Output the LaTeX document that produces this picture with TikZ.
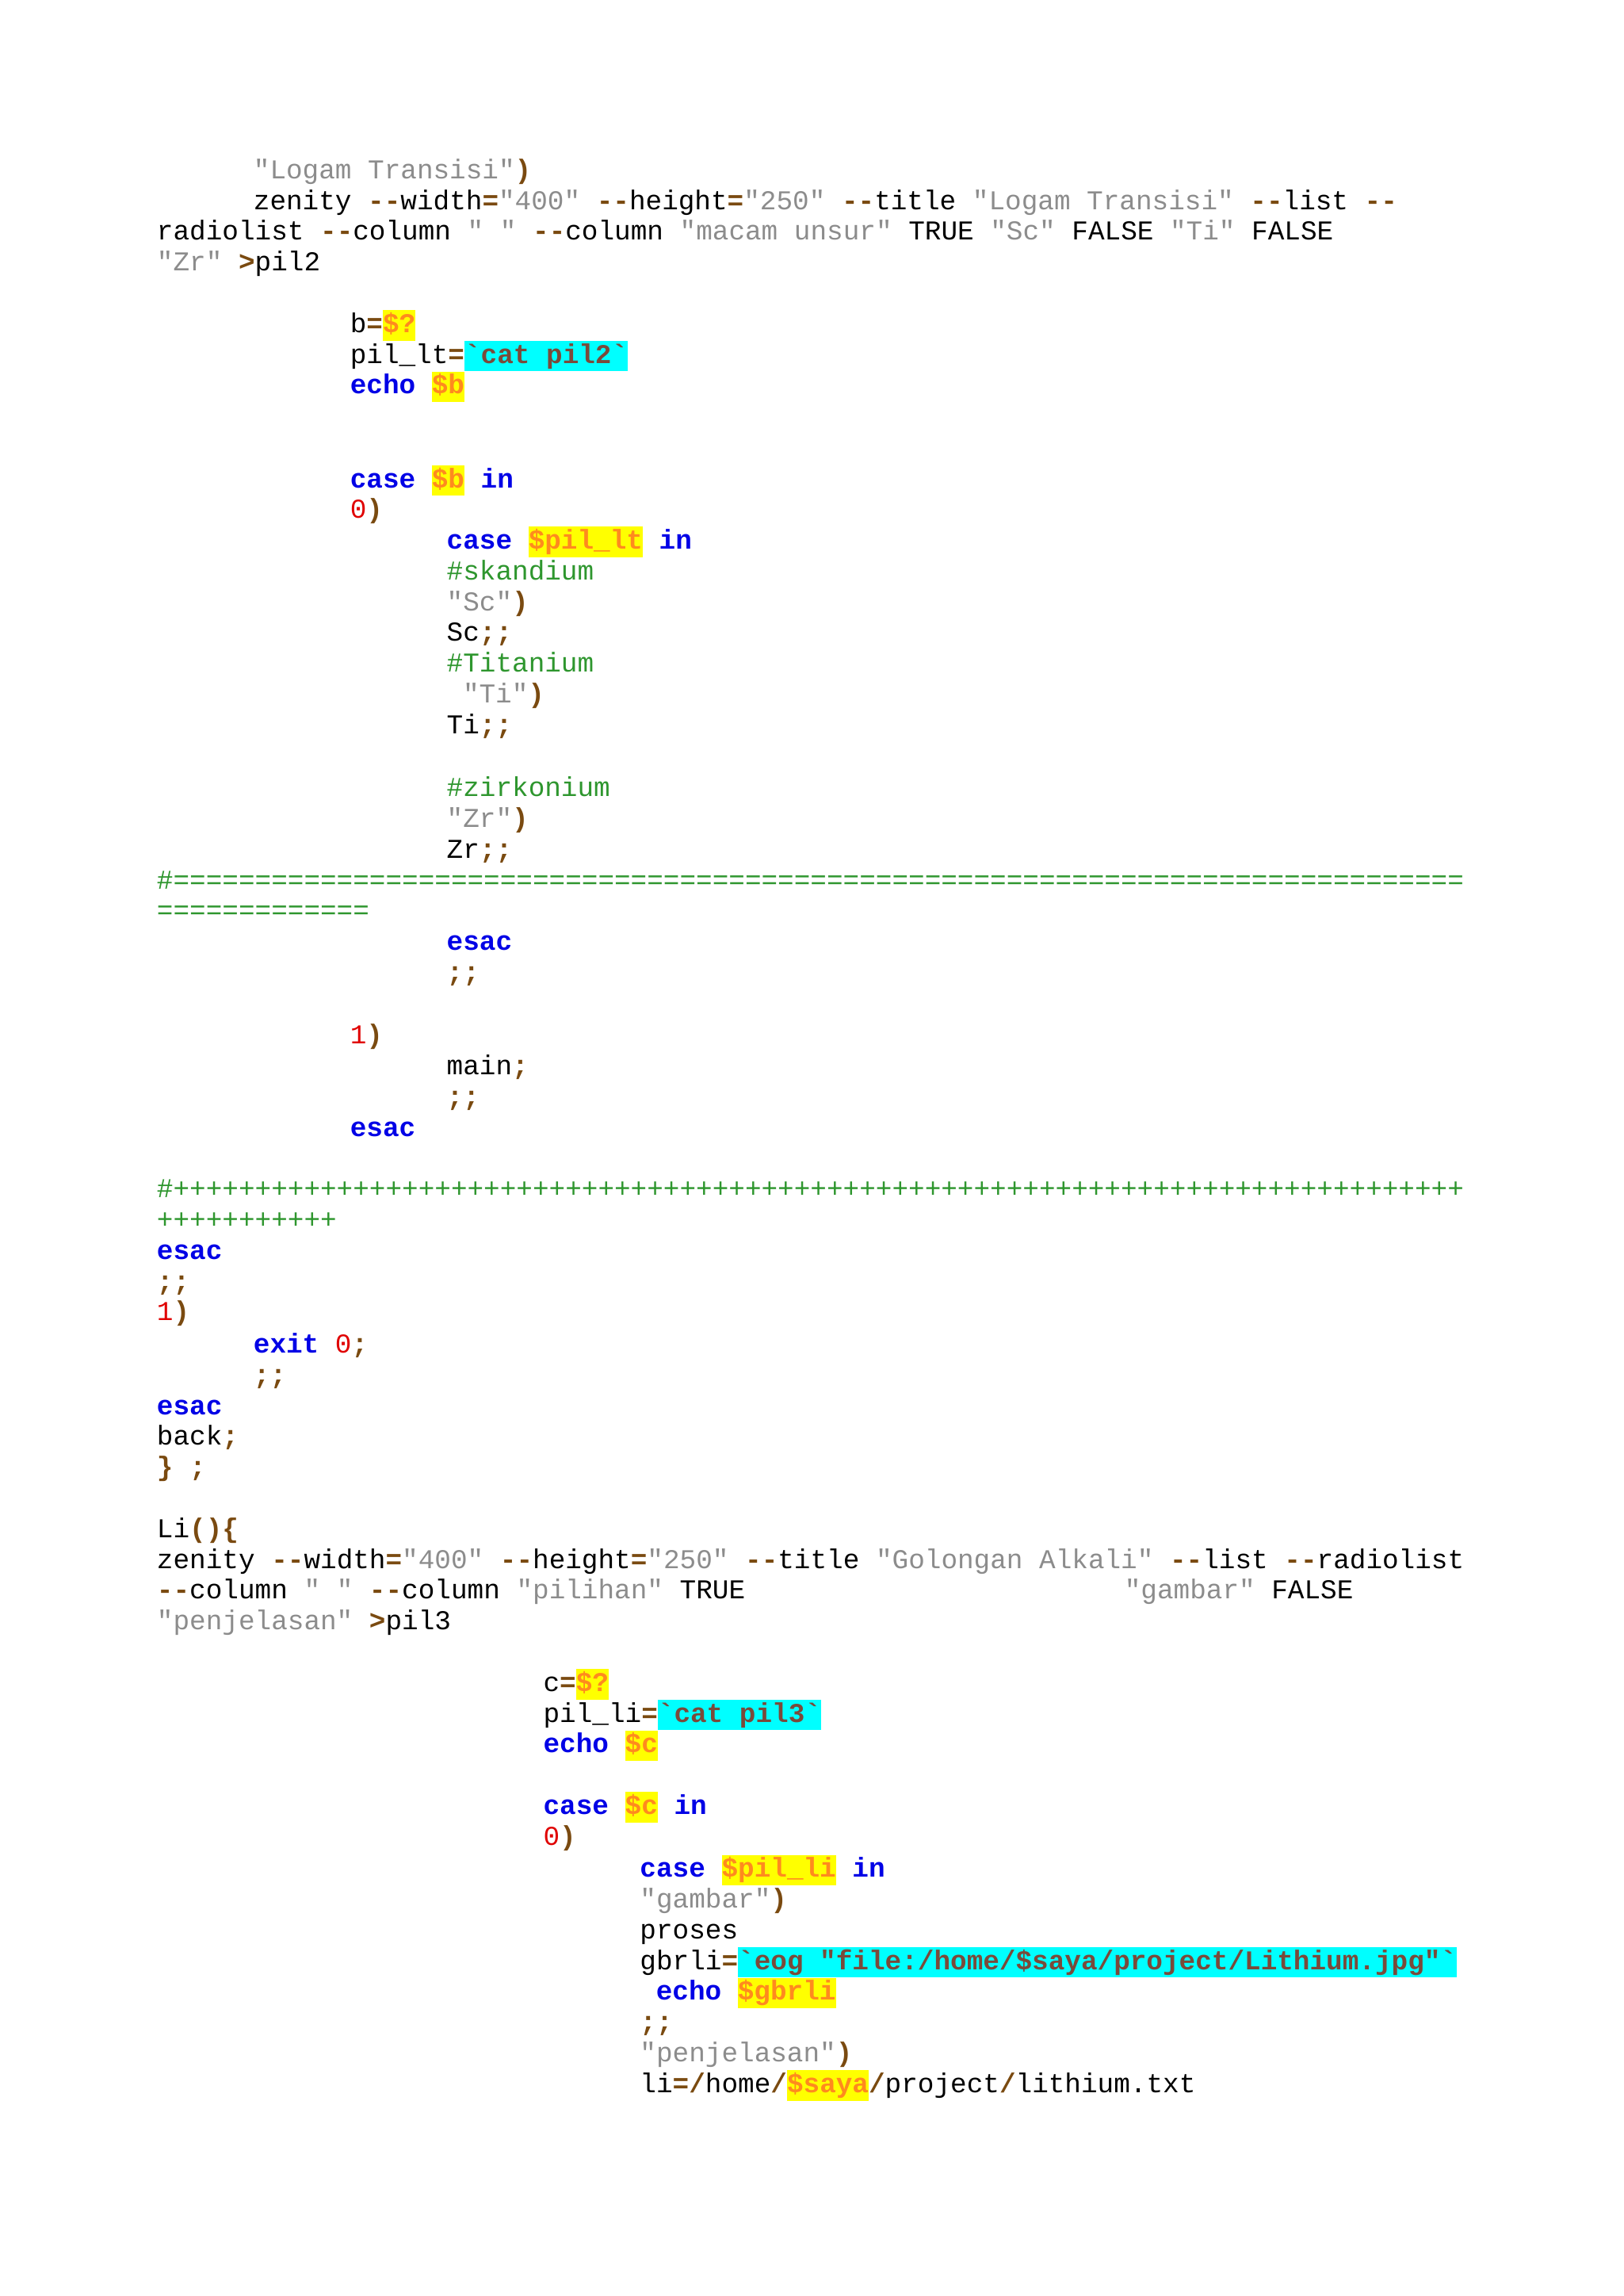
\documentclass[tikz,border=0pt]{standalone}
\usepackage{fontspec}
\usepackage{xcolor}
\newfontfamily\codefont{Liberation Mono}
\definecolor{strc}{HTML}{8C8C8C}
\definecolor{kwc}{HTML}{0000E6}
\definecolor{opc}{HTML}{7A4A10}
\definecolor{cmc}{HTML}{2E962E}
\definecolor{numc}{HTML}{E00000}
\definecolor{varc}{HTML}{FF8A1E}
\definecolor{hlc}{HTML}{7A4A3A}
\definecolor{hly}{HTML}{FFFF00}
\definecolor{hlcy}{HTML}{00FFFF}
\newcommand{\Cs}[1]{\textcolor{strc}{#1}}
\newcommand{\Ck}[1]{\textcolor{kwc}{\bfseries #1}}
\newcommand{\Co}[1]{\textcolor{opc}{\bfseries #1}}
\newcommand{\Cc}[1]{\textcolor{cmc}{#1}}
\newcommand{\Cn}[1]{\textcolor{numc}{#1}}
\newcommand{\Hy}[1]{{\setlength{\fboxsep}{0pt}\colorbox{hly}{\rule[-0.3em]{0pt}{1.12em}\textcolor{varc}{\bfseries #1}}}}
\newcommand{\Hc}[1]{{\setlength{\fboxsep}{0pt}\colorbox{hlcy}{\rule[-0.3em]{0pt}{1.12em}\textcolor{hlc}{\bfseries #1}}}}
\begin{document}
\begin{tikzpicture}[x=1pt,y=-1pt,
  ln/.style={anchor=base west,inner sep=0pt,font=\codefont\fontsize{18.6}{20}\selectfont}]
\useasboundingbox[fill=white] (0,0) rectangle (1109,1568);
\node[ln] (l1) at (173,122) {\Cs{"Logam Transisi"}\Co{)}};
\node[ln] (l2) at (173,143) {zenity \Co{--}width\Co{=}\Cs{"400"} \Co{--}height\Co{=}\Cs{"250"} \Co{--}title \Cs{"Logam Transisi"} \Co{--}list \Co{--}};
\node[ln] (l3) at (107,164) {radiolist \Co{--}column \Cs{" "} \Co{--}column \Cs{"macam unsur"} TRUE \Cs{"Sc"} FALSE \Cs{"Ti"} FALSE};
\node[ln] (l4) at (107,185) {\Cs{"Zr"} \Co{>}pil2};
\node[ln] (l5) at (239,227) {b\Co{=}\Hy{\$?}};
\node[ln] (l6) at (239,248) {pil\_lt\Co{=}\Hc{`cat pil2`}};
\node[ln] (l7) at (239,269) {\Ck{echo} \Hy{\$b}};
\node[ln] (l8) at (239,333) {\Ck{case} \Hy{\$b} \Ck{in}};
\node[ln] (l9) at (239,354) {\Cn{0}\Co{)}};
\node[ln] (l10) at (305,375) {\Ck{case} \Hy{\$pil\_lt} \Ck{in}};
\node[ln] (l11) at (305,396) {\Cc{\#skandium}};
\node[ln] (l12) at (305,417) {\Cs{"Sc"}\Co{)}};
\node[ln] (l13) at (305,438) {Sc\Co{;;}};
\node[ln] (l14) at (305,459) {\Cc{\#Titanium}};
\node[ln] (l15) at (316,480) {\Cs{"Ti"}\Co{)}};
\node[ln] (l16) at (305,501) {Ti\Co{;;}};
\node[ln] (l17) at (305,544) {\Cc{\#zirkonium}};
\node[ln] (l18) at (305,565) {\Cs{"Zr"}\Co{)}};
\node[ln] (l19) at (305,586) {Zr\Co{;;}};
\node[ln] (l20) at (107,607) {\Cc{\#===============================================================================}};
\node[ln] (l21) at (107,628) {\Cc{=============}};
\node[ln] (l22) at (305,649) {\Ck{esac}};
\node[ln] (l23) at (305,670) {\Co{;;}};
\node[ln] (l24) at (239,713) {\Cn{1}\Co{)}};
\node[ln] (l25) at (305,734) {main\Co{;}};
\node[ln] (l26) at (305,755) {\Co{;;}};
\node[ln] (l27) at (239,776) {\Ck{esac}};
\node[ln] (l28) at (107,818) {\Cc{\#+++++++++++++++++++++++++++++++++++++++++++++++++++++++++++++++++++++++++++++++}};
\node[ln] (l29) at (107,839) {\Cc{+++++++++++}};
\node[ln] (l30) at (107,860) {\Ck{esac}};
\node[ln] (l31) at (107,881) {\Co{;;}};
\node[ln] (l32) at (107,902) {\Cn{1}\Co{)}};
\node[ln] (l33) at (173,924) {\Ck{exit} \Cn{0}\Co{;}};
\node[ln] (l34) at (173,945) {\Co{;;}};
\node[ln] (l35) at (107,966) {\Ck{esac}};
\node[ln] (l36) at (107,987) {back\Co{;}};
\node[ln] (l37) at (107,1008) {\Co{\} ;}};
\node[ln] (l38) at (107,1050) {Li\Co{()\{}};
\node[ln] (l39) at (107,1071) {zenity \Co{--}width\Co{=}\Cs{"400"} \Co{--}height\Co{=}\Cs{"250"} \Co{--}title \Cs{"Golongan Alkali"} \Co{--}list \Co{--}radiolist};
\node[ln] (l40) at (107,1092) {\Co{--}column \Cs{" "} \Co{--}column \Cs{"pilihan"} TRUE};
\node[ln] (l40b) at (768,1092) {\Cs{"gambar"} FALSE};
\node[ln] (l41) at (107,1113) {\Cs{"penjelasan"} \Co{>}pil3};
\node[ln] (l42) at (371,1155) {c\Co{=}\Hy{\$?}};
\node[ln] (l43) at (371,1176) {pil\_li\Co{=}\Hc{`cat pil3`}};
\node[ln] (l44) at (371,1197) {\Ck{echo} \Hy{\$c}};
\node[ln] (l45) at (371,1239) {\Ck{case} \Hy{\$c} \Ck{in}};
\node[ln] (l46) at (371,1260) {\Cn{0}\Co{)}};
\node[ln] (l47) at (437,1282) {\Ck{case} \Hy{\$pil\_li} \Ck{in}};
\node[ln] (l48) at (437,1303) {\Cs{"gambar"}\Co{)}};
\node[ln] (l49) at (437,1324) {proses};
\node[ln] (l50) at (437,1345) {gbrli\Co{=}\Hc{`eog "file:/home/\$saya/project/Lithium.jpg"`}};
\node[ln] (l51) at (448,1366) {\Ck{echo} \Hy{\$gbrli}};
\node[ln] (l52) at (437,1387) {\Co{;;}};
\node[ln] (l53) at (437,1408) {\Cs{"penjelasan"}\Co{)}};
\node[ln] (l54) at (437,1429) {li\Co{=/}home\Co{/}\Hy{\$saya}\Co{/}project\Co{/}lithium.txt};
\end{tikzpicture}
\end{document}
